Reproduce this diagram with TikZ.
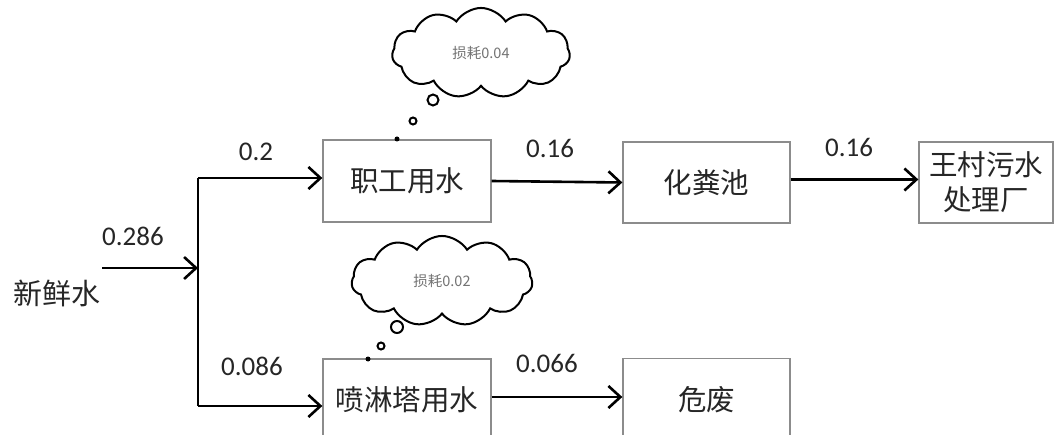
\documentclass[tikz,border=0pt]{standalone}
\usepackage{fontspec}
\setmainfont{Carlito}
\newfontfamily\cjk{Noto Sans CJK SC}
\usetikzlibrary{arrows.meta,shapes.symbols}
\begin{document}
\begin{tikzpicture}[x=1pt,y=-1pt,
  box/.style={draw=black!45,line width=1.3pt,fill=white,inner sep=0pt,align=center,font=\cjk\fontsize{28.5}{35}\selectfont,text=black!85},
  arr/.style={line width=2.6pt,-{Straight Barb[length=12pt,width=22pt,line width=2.6pt]}},
  plain/.style={line width=2.6pt},
  num/.style={font=\fontsize{27}{30}\selectfont,text=black!85,inner sep=0pt},
  cloudy/.style={cloud,cloud puffs=11,cloud puff arc=115,draw=black,line width=2pt,inner sep=0pt,font=\cjk\fontsize{14.5}{16}\selectfont,text=black!55},
  bub/.style={circle,draw=black,line width=2pt,inner sep=0pt},
  dot/.style={circle,fill=black,inner sep=0pt,minimum size=5pt}]
\useasboundingbox (0,0) rectangle (1054,435);
\clip (0,0) rectangle (1054,435);
\fill[white] (0,0) rectangle (1054,435);
% boxes
\node[box,minimum width=168,minimum height=82] (zg) at (407,181) {职工用水};
\node[box,minimum width=167,minimum height=81] (hf) at (706.5,182.5) {化粪池};
\node[box,minimum width=134,minimum height=81] (wc) at (986,182.5) {王村污水\\处理厂};
\node[box,minimum width=168,minimum height=82] (pl) at (407,400) {喷淋塔用水};
\node[box,minimum width=167,minimum height=82] (wf) at (706.5,399.5) {危废};
\node[font=\cjk\fontsize{29}{30}\selectfont,text=black!85,inner sep=0pt] (xx) at (57,293) {新鲜水};
% splitter
\coordinate (jt) at (198,178);
\coordinate (jb) at (198,406);
\coordinate (jm) at (198,268);
\coordinate (src) at (102,268);
\draw[plain] (jt) -- (jb);
\draw[arr] (src) -- (jm);
\draw[arr] (jt) -- (jt -| zg.west);
\draw[arr] (jb) -- (jb -| pl.west);
\draw[arr] (zg.east) -- (hf.west);
\draw[arr] ([yshift=3pt]hf.east) -- ([yshift=3pt]hf.east -| wc.west);
\draw[arr] ([yshift=3pt]pl.east) -- ([yshift=3pt]pl.east -| wf.west);
% labels
\node[num] (l1) at (133,236) {0.286};
\node[num] (l2) at (256,152) {0.2};
\node[num] (l3) at (252,366) {0.086};
\node[num] (l4) at (550,148) {0.16};
\node[num] (l5) at (849,147) {0.16};
\node[num] (l6) at (547,363) {0.066};
% clouds
\node[cloudy,minimum width=178,minimum height=64] (c1) at (481,53) {损耗0.04};
\node[bub,minimum size=11pt] (b1a) at (433,100) {};
\node[bub,minimum size=7pt] (b1b) at (413,121) {};
\node[dot] (d1) at (397,139) {};
\node[cloudy,minimum width=181,minimum height=72] (c2) at (442,281) {损耗0.02};
\node[bub,minimum size=12pt] (b2a) at (397,327) {};
\node[bub,minimum size=7pt] (b2b) at (381,346) {};
\node[dot] (d2) at (368,359) {};
\end{tikzpicture}
\end{document}
